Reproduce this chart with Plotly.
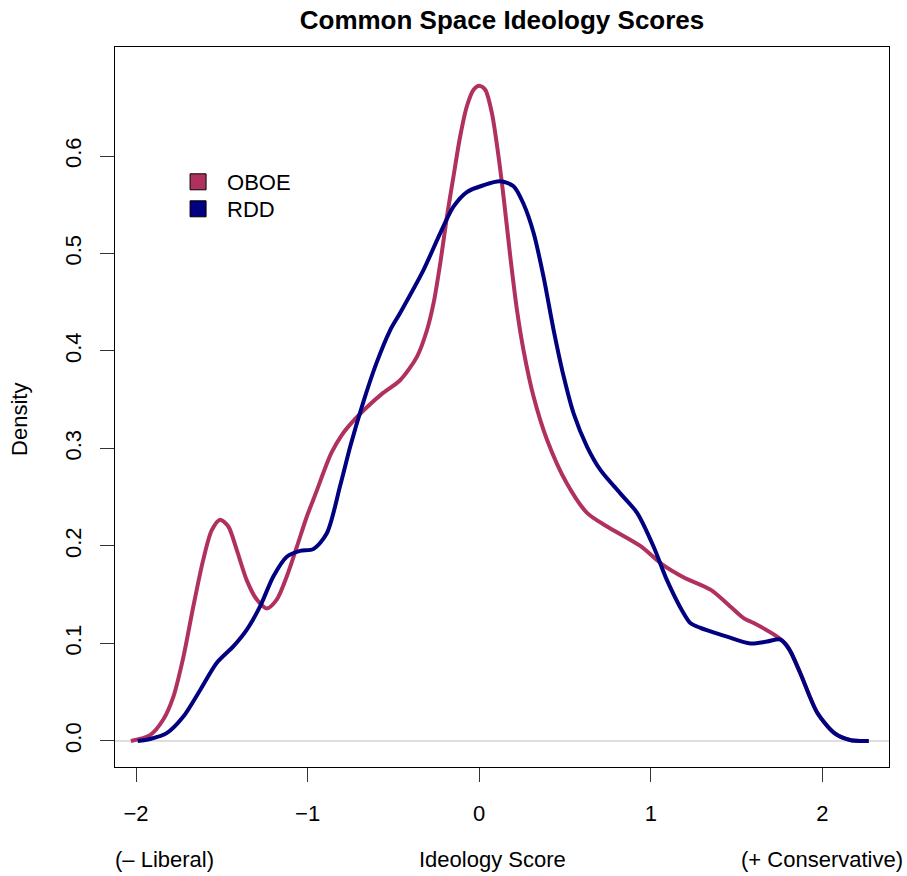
import plotly.graph_objects as go

# Kernel density estimates of common-space ideology scores
oboe_x = [-2.03, -1.918, -1.841, -1.783, -1.724, -1.666, -1.608, -1.559, -1.510, -1.462,
          -1.413, -1.355, -1.296, -1.238, -1.180, -1.121, -1.063, -1.005, -0.946, -0.90,
          -0.86, -0.80, -0.74, -0.65, -0.56, -0.461, -0.363, -0.305, -0.266, -0.227,
          -0.188, -0.150, -0.111, -0.072, -0.033, 0.000, 0.035, 0.074, 0.113, 0.142,
          0.181, 0.220, 0.258, 0.317, 0.395, 0.511, 0.628, 0.745, 0.939, 1.06,
          1.19, 1.35, 1.444, 1.541, 1.60, 1.736, 1.794, 1.87, 1.97, 2.07,
          2.16, 2.27]
oboe_y = [0.000, 0.006, 0.022, 0.045, 0.086, 0.138, 0.186, 0.216, 0.227, 0.220,
          0.196, 0.165, 0.145, 0.136, 0.145, 0.169, 0.199, 0.230, 0.257, 0.279,
          0.296, 0.314, 0.327, 0.343, 0.357, 0.370, 0.394, 0.421, 0.449, 0.490,
          0.538, 0.579, 0.620, 0.651, 0.668, 0.672, 0.668, 0.644, 0.599, 0.558,
          0.497, 0.442, 0.401, 0.353, 0.309, 0.264, 0.234, 0.220, 0.200, 0.182,
          0.168, 0.155, 0.141, 0.126, 0.121, 0.107, 0.098, 0.070, 0.029, 0.008,
          0.001, 0.000]

rdd_x = [-1.99, -1.918, -1.821, -1.724, -1.627, -1.530, -1.433, -1.355, -1.277, -1.199,
         -1.121, -1.044, -0.966, -0.888, -0.81, -0.75, -0.68, -0.60, -0.52, -0.461,
         -0.325, -0.227, -0.150, -0.072, 0.025, 0.122, 0.200, 0.258, 0.317, 0.375,
         0.433, 0.492, 0.550, 0.628, 0.706, 0.822, 0.920, 1.017, 1.094, 1.191,
         1.23, 1.289, 1.444, 1.58, 1.678, 1.755, 1.81, 1.87, 1.97, 2.07,
         2.16, 2.27]
rdd_y = [0.000, 0.002, 0.008, 0.025, 0.052, 0.080, 0.097, 0.114, 0.138, 0.169,
         0.189, 0.195, 0.197, 0.213, 0.262, 0.303, 0.345, 0.387, 0.421, 0.439,
         0.483, 0.521, 0.548, 0.563, 0.570, 0.574, 0.569, 0.551, 0.521, 0.476,
         0.422, 0.374, 0.336, 0.302, 0.278, 0.254, 0.234, 0.199, 0.165, 0.131,
         0.121, 0.116, 0.107, 0.100, 0.102, 0.104, 0.093, 0.070, 0.029, 0.008,
         0.001, 0.000]

series_names = ["OBOE", "RDD"]
series_colors = ["#B03060", "#000080"]

x_ticks = [-2, -1, 0, 1, 2]
y_ticks = [0.0, 0.1, 0.2, 0.3, 0.4, 0.5, 0.6]

FONT = "Liberation Sans, Arial, Helvetica, sans-serif"
BASE = 22

fig = go.Figure()

for xs, ys, name, col in [(oboe_x, oboe_y, series_names[0], series_colors[0]),
                          (rdd_x, rdd_y, series_names[1], series_colors[1])]:
    fig.add_trace(go.Scatter(x=xs, y=ys, mode="lines", name=name,
                             line=dict(color=col, width=4, shape="spline", smoothing=0.8),
                             showlegend=False, hoverinfo="skip"))

# legend keys: filled squares with black border, one legend box per entry
for name, col, lg in zip(series_names, series_colors, ["legend", "legend2"]):
    fig.add_trace(go.Scatter(x=[None], y=[None], mode="markers", name=name,
                             legend=lg,
                             marker=dict(symbol="square", size=16, color=col,
                                         line=dict(color="black", width=1))))

# horizontal reference line at zero density
fig.add_shape(type="line", xref="paper", yref="y", x0=0, x1=1, y0=0, y1=0,
              line=dict(color="#BEBEBE", width=1), layer="below")

fig.update_xaxes(range=[-2.1224, 2.388], tickvals=x_ticks, ticks="outside",
                 ticklen=14, tickwidth=1, tickcolor="#333", showline=True,
                 linecolor="black", linewidth=1.3, mirror=True, showgrid=False,
                 zeroline=False, ticklabelstandoff=12,
                 tickfont=dict(family=FONT, size=BASE, color="black"))
fig.update_yaxes(range=[-0.0267, 0.7118], tickvals=y_ticks, tickformat=".1f",
                 ticks="outside", ticklen=14, tickwidth=1, tickcolor="#333",
                 showline=True, linecolor="black", linewidth=1.3, mirror=True,
                 showgrid=False, zeroline=False, tickangle=-90,
                 ticklabelstandoff=10,
                 tickfont=dict(family=FONT, size=BASE, color="black"))

fig.add_annotation(text="Density", textangle=-90, xref="paper", yref="paper",
                   x=0, xshift=-95, y=0.482, xanchor="center", yanchor="middle",
                   showarrow=False, font=dict(family=FONT, size=BASE, color="black"))

label_y = -0.129
fig.add_annotation(text="(\u2013 Liberal)", xref="paper", yref="paper",
                   x=(113 - 115) / 773, y=label_y, xanchor="left", yanchor="middle",
                   showarrow=False, font=dict(family=FONT, size=BASE, color="black"))
fig.add_annotation(text="Ideology Score", xref="paper", yref="paper",
                   x=(492 - 115) / 773, y=label_y, xanchor="center", yanchor="middle",
                   showarrow=False, font=dict(family=FONT, size=BASE, color="black"))
fig.add_annotation(text="(+ Conservative)", xref="paper", yref="paper",
                   x=(904 - 115) / 773, y=label_y, xanchor="right", yanchor="middle",
                   showarrow=False, font=dict(family=FONT, size=BASE, color="black"))

legend_style = dict(xanchor="left", yanchor="top", itemwidth=48,
                    bgcolor="rgba(0,0,0,0)", borderwidth=0,
                    font=dict(family=FONT, size=BASE, color="black"))

fig.update_layout(
    width=907, height=876,
    margin=dict(l=115, r=18, t=47, b=109),
    paper_bgcolor="white", plot_bgcolor="white",
    title=dict(text="<b>Common Space Ideology Scores</b>", x=0.5, xref="paper",
               y=1 - 20 / 876, yref="container", xanchor="center", yanchor="middle",
               font=dict(family=FONT, size=26, color="black")),
    showlegend=True,
    legend=dict(x=(169 - 115) / 773, y=(767 - 161) / 720, **legend_style),
    legend2=dict(x=(169 - 115) / 773, y=(767 - 188) / 720, **legend_style),
)

fig.write_html("out.html")
